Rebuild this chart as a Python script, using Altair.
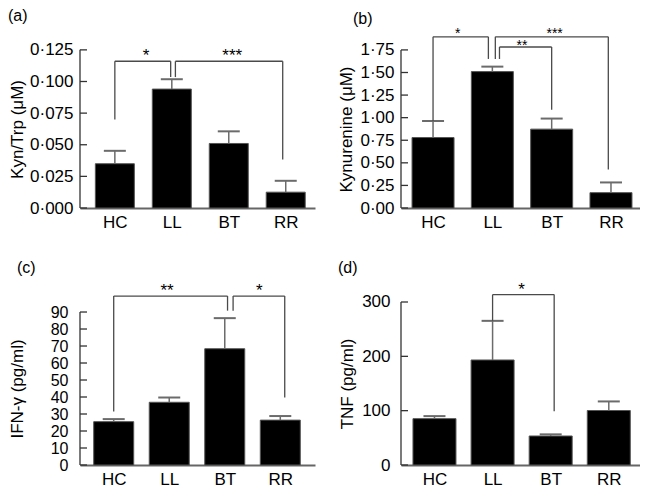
import altair as alt
import pandas as pd

FONT = "Liberation Sans"

groups = ["HC", "LL", "BT", "RR"]
positions = [0, 1, 2, 3]

# (a) Kyn/Trp ratio
kyn_trp_mean = [0.035, 0.094, 0.051, 0.0125]
kyn_trp_sem = [0.0102, 0.0078, 0.0096, 0.0090]
kyn_trp_ticks = [0.0, 0.025, 0.05, 0.075, 0.1, 0.125]

# (b) Kynurenine
kyn_mean = [0.78, 1.51, 0.873, 0.17]
kyn_sem = [0.183, 0.055, 0.117, 0.113]
kyn_ticks = [0.0, 0.25, 0.5, 0.75, 1.0, 1.25, 1.5, 1.75]

# (c) IFN-gamma
ifn_mean = [25.5, 36.9, 68.4, 26.4]
ifn_sem = [1.5, 2.8, 18.0, 2.4]
ifn_ticks = [0, 10, 20, 30, 40, 50, 60, 70, 80, 90]

# (d) TNF
tnf_mean = [85.3, 193.3, 53.4, 100.3]
tnf_sem = [4.7, 72.0, 3.0, 16.7]
tnf_ticks = [0, 100, 200, 300]

# significance brackets:
# (left pos, right pos, left leg bottom, right leg bottom, bracket height, label, label pos, label baseline)
kyn_trp_brackets = [
    (0.0, 0.98, 0.070, 0.1035, 0.116, "*", 0.55, 0.116),
    (1.063, 2.947, 0.1035, 0.0383, 0.116, "***", 2.06, 0.116),
]
kyn_brackets = [
    (0.0, 0.933, 0.963, 1.65, 1.895, "*", 0.416, 1.882),
    (1.05, 2.955, 1.65, 0.427, 1.895, "***", 2.05, 1.882),
    (1.12, 2.0, 1.65, 1.088, 1.782, "**", 1.5, 1.753),
]
ifn_brackets = [
    (0.0, 2.05, 31.5, 90.8, 99.4, "**", 0.96, 99.4),
    (2.15, 3.08, 90.8, 39.7, 99.4, "*", 2.62, 99.4),
]
tnf_brackets = [
    (1.0, 2.06, 265.3, 99.0, 313.6, "*", 1.5, 313.6),
]

AXIS_COL = "#333333"
WHISK_COL = "#6b6b6b"
BRACKET_COL = "#4a4a4a"


def panel(tag, mean, sem, ticks, brackets, ytitle, decimals,
          width, height, xdom, ymax, bar_w, label_pad, title_x, title_y,
          tag_x, tag_y, star_size, tick_font):
    xs = alt.Scale(domain=xdom, nice=False, zero=False)
    ys = alt.Scale(domain=[0, ymax], nice=False, zero=False)

    df = pd.DataFrame({"pos": positions, "group": groups, "mean": mean, "sem": sem})
    df["cap"] = df["mean"] + df["sem"]

    names = "[" + ",".join("'%s'" % g for g in groups) + "]"
    xaxis = alt.Axis(values=positions, labelExpr=names + "[datum.value]", title=None,
                     ticks=False, grid=False, domainColor="#666666", domainWidth=2,
                     labelFontSize=17, labelPadding=6, labelFont=FONT, labelColor="black",
                     labelOverlap=False, labelFlush=False)
    if decimals > 0:
        lexpr = "replace(format(datum.value, '.%df'), '.', '\u00b7')" % decimals
    else:
        lexpr = "format(datum.value, 'd')"
    yaxis = alt.Axis(values=ticks, labelExpr=lexpr, title=ytitle, domain=False, ticks=False,
                     grid=False, labelPadding=label_pad, labelFontSize=tick_font, labelFont=FONT,
                     labelColor="black", labelOverlap=False, labelFlush=False,
                     titleFont=FONT, titleFontSize=17, titleFontWeight="normal",
                     titleColor="black", titleX=title_x, titleY=title_y, titleAngle=270,
                     titleBaseline="middle", titleAlign="center")

    def X(field):
        return alt.X(field, scale=xs, axis=xaxis)

    def Y(field):
        return alt.Y(field, scale=ys, axis=yaxis)

    bars = alt.Chart(df).mark_bar(orient="vertical", size=bar_w, color="black",
                                  stroke="#555555", strokeWidth=1).encode(
        x=X("pos:Q"), y=Y("mean:Q"),
    )
    whisk = alt.Chart(df).mark_rule(color=WHISK_COL, strokeWidth=1.5).encode(
        x=X("pos:Q"), y=Y("mean:Q"), y2="cap:Q",
    )
    caps = alt.Chart(df).mark_tick(orient="horizontal", size=22, thickness=2,
                                   color=WHISK_COL, opacity=1).encode(
        x=X("pos:Q"), y=Y("cap:Q"),
    )

    yline_df = pd.DataFrame({"y0": [ticks[0]], "y1": [ticks[-1]]})
    yline = alt.Chart(yline_df).mark_rule(color=AXIS_COL, strokeWidth=1.3).encode(
        x=alt.value(0), y=Y("y0:Q"), y2="y1:Q",
    )
    tick_df = pd.DataFrame({"t": ticks})
    yticks = alt.Chart(tick_df).mark_rule(color=AXIS_COL, strokeWidth=1.3).encode(
        x=alt.value(0), x2=alt.value(7), y=Y("t:Q"),
    )

    seg_rows = []
    star_rows = []
    for (xl, xr, yl, yr, top, lab, lx, ly) in brackets:
        seg_rows.append({"xa": xl, "ya": yl, "xb": xl, "yb": top})
        seg_rows.append({"xa": xl, "ya": top, "xb": xr, "yb": top})
        seg_rows.append({"xa": xr, "ya": top, "xb": xr, "yb": yr})
        star_rows.append({"x": lx, "y": ly, "label": lab})
    segs = alt.Chart(pd.DataFrame(seg_rows)).mark_rule(color=BRACKET_COL, strokeWidth=1.3).encode(
        x=X("xa:Q"), y=Y("ya:Q"), x2="xb:Q", y2="yb:Q",
    )
    stars = alt.Chart(pd.DataFrame(star_rows)).mark_text(
        font=FONT, fontSize=star_size, baseline="alphabetic", align="center", color="black"
    ).encode(
        x=X("x:Q"), y=Y("y:Q"), text="label:N",
    )
    tag_mark = alt.Chart(pd.DataFrame({"t": [tag]})).mark_text(
        font=FONT, fontSize=16, baseline="top", align="left", color="black"
    ).encode(x=alt.value(tag_x), y=alt.value(tag_y), text="t:N")

    return alt.layer(bars, whisk, caps, yline, yticks, segs, stars, tag_mark).properties(
        width=width, height=height)


pa = panel("(a)", kyn_trp_mean, kyn_trp_sem, kyn_trp_ticks, kyn_trp_brackets,
           "Kyn/Trp (\u03bcM)", 3, 235, 200, [-0.524, 3.426], 0.1581, 39, 7,
           -63, 121, -72, 0, 17, 17)
pb = panel("(b)", kyn_mean, kyn_sem, kyn_ticks, kyn_brackets,
           "Kynurenine (\u03bcM)", 2, 239, 200, [-0.456, 3.405], 2.214, 42, 7,
           -55, 121, -48, 3, 14, 17)
pc = panel("(c)", ifn_mean, ifn_sem, ifn_ticks, ifn_brackets,
           "IFN-\u03b3 (pg/ml)", 0, 235, 205, [-0.517, 3.535], 120.6, 40, 12,
           -63, 128.5, -63, 0, 17, 16)
pd_ = panel("(d)", tnf_mean, tnf_sem, tnf_ticks, tnf_brackets,
            "TNF (pg/ml)", 0, 239, 205, [-0.49, 3.451], 377.3, 43, 11,
            -54, 123.5, -63, 0, 17, 17)

chart = alt.concat(pa, pb, pc, pd_, columns=2, spacing={"row": 52, "column": 86},
                   bounds="flush").properties(padding=0).configure_view(stroke=None)

chart.save("out.html", embed_options={"renderer": "svg", "actions": False})
